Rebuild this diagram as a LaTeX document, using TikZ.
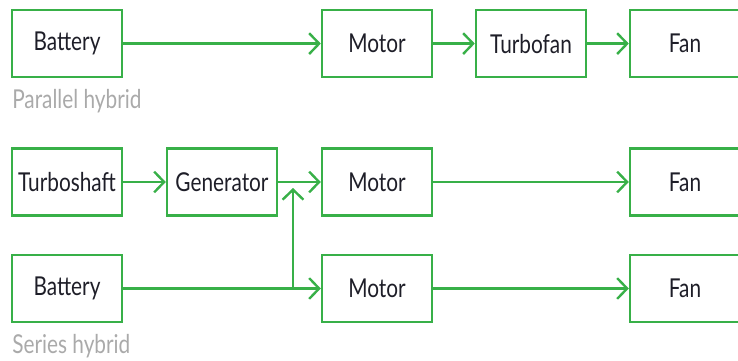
\documentclass[tikz,border=0pt]{standalone}
\usepackage{fontspec}
\setmainfont{Lato}
\newfontfamily\boxfont[FakeStretch=0.8]{Lato}
\usetikzlibrary{arrows.meta,positioning}
\definecolor{flowgreen}{RGB}{56,176,72}
\definecolor{labeltext}{RGB}{30,30,40}
\definecolor{captiongray}{RGB}{170,170,170}
\begin{document}
\begin{tikzpicture}[x=1cm,y=1cm]
\tikzset{
  blockbox/.style={rectangle,draw=flowgreen,line width=1.7pt,minimum width=2.75cm,minimum height=1.675cm,inner sep=1pt,
    font=\boxfont\fontsize{18.5}{20}\selectfont,text=labeltext},
  caption/.style={anchor=west,inner sep=0pt,font=\boxfont\fontsize{18.5}{20}\selectfont,text=captiongray},
  flow/.style={draw=flowgreen,line width=1.7pt,-{Straight Barb[length=2.5mm,width=5.2mm,line width=1.7pt]}}
}
\clip (0,0) rectangle (18.45,9);
% parallel hybrid
\node[blockbox] (n_batP) at (1.675,7.91) {Battery};
\node[blockbox] (n_motP) at (9.425,7.91) {Motor};
\node[blockbox] (n_tfan) at (13.275,7.91) {Turbofan};
\node[blockbox] (n_fanP) at (17.125,7.91) {Fan};
\node[caption] (c_par) at (0.3,6.475) {Parallel hybrid};
\draw[flow] (n_batP) -- (n_motP);
\draw[flow] (n_motP) -- (n_tfan);
\draw[flow] (n_tfan) -- (n_fanP);
% series hybrid
\node[blockbox] (n_tshaft) at (1.675,4.45) {Turboshaft};
\node[blockbox] (n_gen) at (5.55,4.45) {Generator};
\node[blockbox] (n_motA) at (9.425,4.45) {Motor};
\node[blockbox] (n_fanA) at (17.125,4.45) {Fan};
\node[blockbox] (n_batS) at (1.675,1.7875) {Battery};
\node[blockbox] (n_motB) at (9.425,1.7875) {Motor};
\node[blockbox] (n_fanB) at (17.125,1.7875) {Fan};
\node[caption] (c_ser) at (0.3,0.35) {Series hybrid};
\draw[flow] (n_tshaft) -- (n_gen);
\draw[flow] (n_gen) -- (n_motA);
\draw[flow] (n_motA) -- (n_fanA);
\draw[flow] (n_batS) -- (n_motB);
\draw[flow] (n_motB) -- (n_fanB);
\coordinate (jct) at (7.325,1.7875);
\coordinate (jtop) at (7.325,4.3);
\draw[flow] (jct) -- (jtop);
\end{tikzpicture}
\end{document}
